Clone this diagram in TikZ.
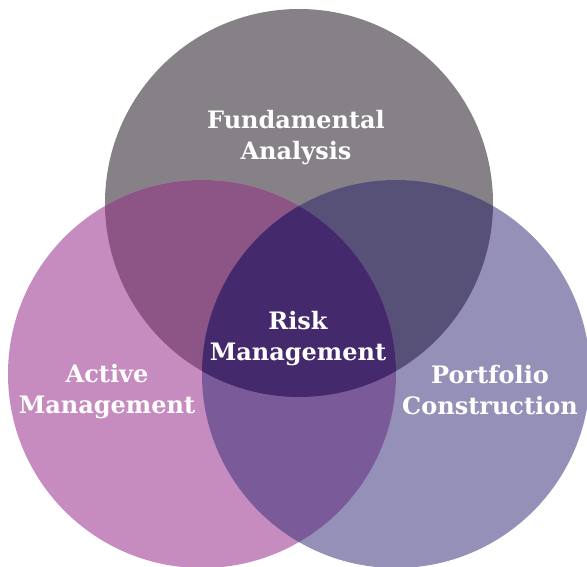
\documentclass[tikz,border=0pt]{standalone}
\usepackage{fontspec}
\setmainfont{DejaVu Serif}
\definecolor{cTop}{RGB}{133,129,134}
\definecolor{cLeft}{RGB}{198,139,191}
\definecolor{cRight}{RGB}{148,144,183}
\definecolor{cTopLeft}{RGB}{141,84,134}
\definecolor{cTopRight}{RGB}{87,81,120}
\definecolor{cLeftRight}{RGB}{122,90,152}
\definecolor{cCore}{RGB}{68,42,108}
\begin{document}
\begin{tikzpicture}[x=1pt,y=-1pt,
  lbl/.style={text=white,align=center,inner sep=0pt,
    font=\fontsize{24}{31}\selectfont\bfseries}]
\useasboundingbox (0,0) rectangle (587,567);
\clip (0,0) rectangle (587,567);
% circle centres and radius
\def\rr{194}
\coordinate (T) at (299,203);
\coordinate (L) at (202,374);
\coordinate (R) at (396,374);
% single circles
\fill[cTop] (T) circle (\rr);
\fill[cLeft] (L) circle (\rr);
\fill[cRight] (R) circle (\rr);
% pairwise overlaps
\begin{scope}
  \clip (T) circle (\rr);
  \fill[cTopLeft] (L) circle (\rr);
  \fill[cTopRight] (R) circle (\rr);
\end{scope}
\begin{scope}
  \clip (L) circle (\rr);
  \fill[cLeftRight] (R) circle (\rr);
\end{scope}
% common core
\begin{scope}
  \clip (T) circle (\rr);
  \clip (L) circle (\rr);
  \fill[cCore] (R) circle (\rr);
\end{scope}
% labels
\node[lbl] (fa) at (296,137.5) {Fundamental\\Analysis};
\node[lbl] (rm) at (298,339) {Risk\\Management};
\node[lbl] (am) at (107,391.5) {Active\\Management};
\node[lbl] (pc) at (490,390) {Portfolio\\Construction};
\end{tikzpicture}
\end{document}
